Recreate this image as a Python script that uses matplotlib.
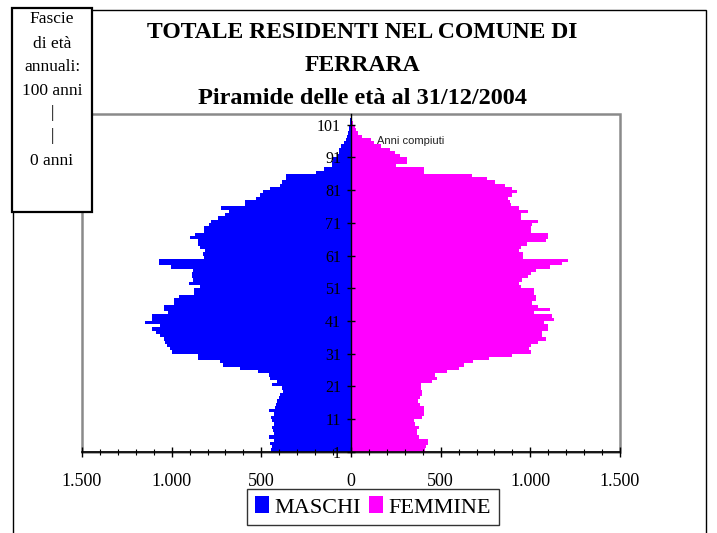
import matplotlib
matplotlib.use('Agg')
import matplotlib.pyplot as plt
from matplotlib.patches import Rectangle
from matplotlib.ticker import MultipleLocator, FuncFormatter, FixedLocator

# ---------------- data ----------------
eta = list(range(0, 102))
maschi = [445, 440, 450, 430, 455, 430, 435, 440, 430, 440,
          445, 430, 460, 425, 420, 415, 400, 395, 380, 385,
          440, 410, 450, 460, 520, 620, 715, 728, 855, 855,
          998, 1010, 1025, 1035, 1045, 1064, 1090, 1111, 1064, 1150,
          1111, 1111, 1020, 1045, 1041, 988, 986, 960, 877, 877,
          840, 901, 879, 888, 888, 879, 1002, 1069, 1069, 820,
          823, 814, 840, 855, 855, 900, 868, 817, 817, 790,
          780, 740, 705, 683, 724, 590, 590, 529, 507, 488,
          451, 395, 385, 361, 361, 194, 150, 107, 107, 100,
          80, 65, 65, 56, 37, 30, 24, 15, 12, 9,
          5, 3]
femmine = [414, 420, 427, 427, 377, 367, 367, 377, 358, 353,
           396, 405, 405, 409, 383, 371, 386, 396, 396, 390,
           390, 452, 480, 470, 536, 601, 629, 680, 770, 895,
           1003, 995, 1003, 1040, 1088, 1064, 1064, 1100, 1098, 1077,
           1130, 1120, 1021, 1110, 1042, 1008, 1032, 1032, 1021, 1020,
           947, 935, 955, 986, 1005, 1032, 1110, 1175, 1209, 960,
           958, 938, 950, 981, 1087, 1098, 1098, 1003, 1003, 1010,
           1041, 950, 950, 985, 938, 890, 887, 877, 900, 924,
           900, 860, 803, 758, 673, 405, 405, 250, 310, 310,
           271, 245, 220, 170, 130, 110, 60, 40, 30, 20,
           12, 5]
y_tick_pos = [0, 10, 20, 30, 40, 50, 60, 70, 80, 90, 100]
y_tick_labels = ["1", "11", "21", "31", "41", "51", "61", "71", "81", "91", "101"]
titolo = ["TOTALE RESIDENTI NEL COMUNE DI", "FERRARA", "Piramide delle et\u00e0 al 31/12/2004"]
box_lines = ["Fascie", "di et\u00e0", "annuali:", "100 anni", "|", "|", "0 anni"]
serie = ["MASCHI", "FEMMINE"]

BLUE = '#0000FF'
MAGENTA = '#FF00FF'
SERIF = ['Liberation Serif', 'DejaVu Serif']

W, H = 717, 533
fig = plt.figure(figsize=(W / 100, H / 100), dpi=100)

def fx(px):
    return px / W

def fy(py):
    return 1 - py / H

# outer chart border
fig.add_artist(Rectangle((fx(13), fy(560)), fx(706) - fx(13), fy(10) - fy(560),
                         transform=fig.transFigure, fill=False, edgecolor='black',
                         linewidth=1.0, clip_on=False))

ax = fig.add_axes([fx(82), fy(451.7), fx(620) - fx(82), fy(114.3) - fy(451.7)])
ax.barh(eta, [-m for m in maschi], height=1.0, align='edge', color=BLUE,
        linewidth=0, label=serie[0])
ax.barh(eta, femmine, height=1.0, align='edge', color=MAGENTA,
        linewidth=0, label=serie[1])

ax.set_xlim(-1500, 1500)
ax.set_ylim(0, 103.2)

# plot-area frame (gray)
ax.add_patch(Rectangle((0, 0), 1, 1, transform=ax.transAxes, fill=False,
                       edgecolor='#8a8a8a', linewidth=1.8, clip_on=False, zorder=0.5))
for s in ['top', 'right']:
    ax.spines[s].set_visible(False)
ax.spines['left'].set_position(('data', 0))
ax.spines['left'].set_color('black')
ax.spines['left'].set_linewidth(1.0)
ax.spines['bottom'].set_color('black')
ax.spines['bottom'].set_linewidth(1.2)

ax.yaxis.set_major_locator(FixedLocator(y_tick_pos))
ax.set_yticklabels(y_tick_labels, fontfamily=SERIF)
ax.tick_params(axis='y', direction='inout', length=6.3, width=1.0, pad=4,
               labelsize=11.5, colors='black')

ax.xaxis.set_major_locator(MultipleLocator(500))
ax.xaxis.set_minor_locator(MultipleLocator(100))
ax.xaxis.set_major_formatter(FuncFormatter(lambda v, p: f"{abs(int(round(v))):,}".replace(",", ".")))
ax.tick_params(axis='x', which='major', direction='inout', length=7, width=1.0,
               pad=12, labelsize=13)
ax.tick_params(axis='x', which='minor', direction='inout', length=4, width=0.8)
for lab in ax.get_xticklabels():
    lab.set_fontfamily(SERIF)

ax.text(143, 94.95, "Anni compiuti", fontsize=8, family='Liberation Sans',
        ha='left', va='center', color='#222222')

# titles
ty = [33, 66, 98]
tsz = [17, 17, 17.5]
for t, y, s in zip(titolo, ty, tsz):
    fig.text(fx(362), fy(y), t, ha='center', va='center', fontsize=s,
             fontweight='bold', family=SERIF)

# legend
leg = ax.legend(loc='center', bbox_to_anchor=(fx(373), fy(507)),
                bbox_transform=fig.transFigure, ncol=2, frameon=True,
                fancybox=False, edgecolor='black', handlelength=0.6,
                handleheight=0.8, handletextpad=0.25, columnspacing=0.4,
                borderpad=0.35, prop={'family': SERIF, 'size': 16})
leg.get_frame().set_linewidth(1.0)

# "Fascie" box
fig.add_artist(Rectangle((fx(12), fy(212)), fx(92) - fx(12), fy(8) - fy(212),
                         transform=fig.transFigure, facecolor='white',
                         edgecolor='black', linewidth=1.6, zorder=5))
by = [19, 44, 67, 91, 113, 136, 161]
for t, y in zip(box_lines, by):
    fig.text(fx(52), fy(y), t, ha='center', va='center', fontsize=12.5,
             family=SERIF, zorder=6)

fig.savefig('out.png', dpi=100)
